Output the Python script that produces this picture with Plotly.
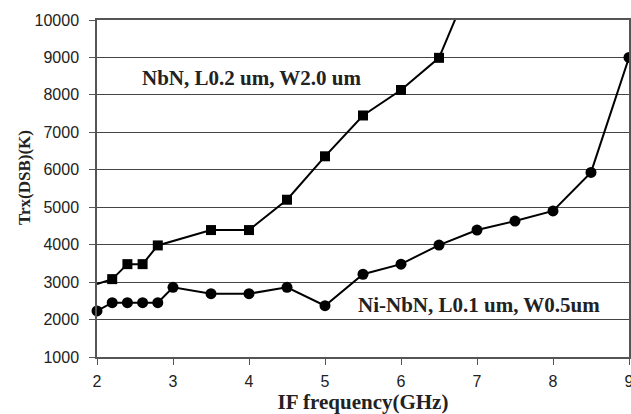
import plotly.graph_objects as go

nbn_x = [2.0, 2.2, 2.4, 2.6, 2.8, 3.5, 4.0, 4.5, 5.0, 5.5, 6.0, 6.5, 7.0]
nbn_y = [2950, 3080, 3480, 3480, 3980, 4390, 4390, 5200, 6360, 7450, 8130, 8990, 11400]

ni_x = [2.0, 2.2, 2.4, 2.6, 2.8, 3.0, 3.5, 4.0, 4.5, 5.0, 5.5, 6.0, 6.5, 7.0, 7.5, 8.0, 8.5, 9.0]
ni_y = [2230, 2450, 2450, 2450, 2450, 2860, 2690, 2690, 2860, 2370, 3210, 3480, 3990, 4390, 4630, 4900, 5930, 9000]

x_ticks = [2, 3, 4, 5, 6, 7, 8, 9]
y_ticks = [1000, 2000, 3000, 4000, 5000, 6000, 7000, 8000, 9000, 10000]
y_labels = [str(v) for v in y_ticks]

serif = "Liberation Serif"
sans = "Liberation Sans"

fig = go.Figure()
fig.add_trace(go.Scatter(
    x=nbn_x, y=nbn_y, mode="lines+markers",
    line=dict(color="black", width=2),
    marker=dict(symbol="square", size=[0] + [10] * (len(nbn_x) - 1), color="black",
                opacity=1, line=dict(width=0, color="black")),
    showlegend=False))
fig.add_trace(go.Scatter(
    x=ni_x, y=ni_y, mode="lines+markers",
    line=dict(color="black", width=2),
    marker=dict(symbol="circle", size=11, color="black", opacity=1, line=dict(width=0, color="black")),
    cliponaxis=False, showlegend=False))

fig.add_annotation(x=4.03, y=8450, text="<b>NbN, L0.2 um, W2.0 um</b>", showarrow=False,
                   font=dict(family=serif, size=21, color="#222"), xanchor="center", yanchor="middle")
fig.add_annotation(x=7.03, y=2400, text="<b>Ni-NbN, L0.1 um, W0.5um</b>", showarrow=False,
                   font=dict(family=serif, size=21, color="#222"), xanchor="center", yanchor="middle")
fig.add_annotation(xref="paper", yref="paper", x=0, y=0.531, xshift=-73, textangle=-90,
                   text="<b>Trx(DSB)(K)</b>", showarrow=False,
                   font=dict(family=serif, size=17, color="#222"), xanchor="center", yanchor="middle")

fig.update_layout(
    template="none",
    width=631, height=414,
    margin=dict(l=97, r=2, t=20, b=57),
    plot_bgcolor="white", paper_bgcolor="white",
    xaxis=dict(range=[2, 9], tickvals=x_ticks, showgrid=False, zeroline=False,
               showline=True, linecolor="#555", linewidth=1.5, mirror=True,
               ticks="outside", ticklen=6, tickcolor="#555", ticklabelstandoff=3,
               ticklabeloverflow="allow",
               tickfont=dict(family=sans, size=16, color="#222"),
               title=dict(text="<b>IF frequency(GHz)</b>", font=dict(family=serif, size=21, color="#222"), standoff=2)),
    yaxis=dict(range=[1000, 10000], tickvals=y_ticks, ticktext=y_labels, showgrid=True,
               gridcolor="#444", gridwidth=1.2,
               zeroline=False, showline=True, linecolor="#555", linewidth=1.5, mirror=True,
               ticks="outside", ticklen=6, tickcolor="#555", ticklabelstandoff=7,
               tickfont=dict(family=sans, size=16, color="#222")),
)

fig.write_html("out.html", config={"displayModeBar": False},
               post_script="document.body.style.margin='0';document.body.style.overflow='hidden';")
